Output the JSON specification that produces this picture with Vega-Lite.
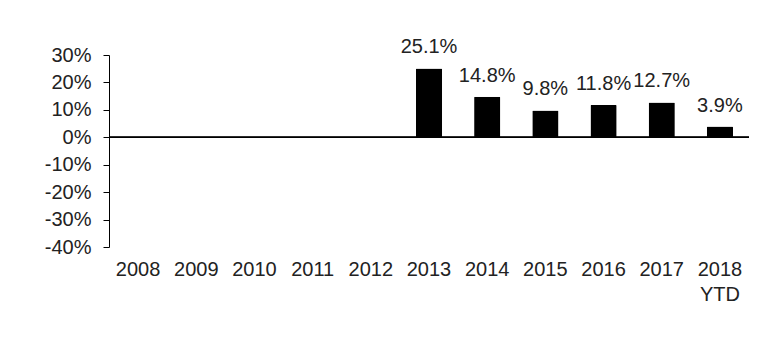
{
  "$schema": "https://vega.github.io/schema/vega-lite/v6.json",
  "autosize": "none",
  "width": 640,
  "height": 192,
  "padding": {"left": 109, "top": 55, "right": 17, "bottom": 96},
  "background": "white",
  "config": {"view": {"stroke": null}, "font": "Liberation Sans"},
  "data": {"values": [
    {"year": "2008", "value": null},
    {"year": "2009", "value": null},
    {"year": "2010", "value": null},
    {"year": "2011", "value": null},
    {"year": "2012", "value": null},
    {"year": "2013", "value": 0.251},
    {"year": "2014", "value": 0.148},
    {"year": "2015", "value": 0.098},
    {"year": "2016", "value": 0.118},
    {"year": "2017", "value": 0.127},
    {"year": "2018 YTD", "value": 0.039}
  ]},
  "encoding": {
    "x": {
      "field": "year", "type": "ordinal", "sort": null,
      "scale": {"domain": ["2008", "2009", "2010", "2011", "2012", "2013", "2014", "2015", "2016", "2017", "2018 YTD"], "paddingInner": 0.55, "paddingOuter": 0.275},
      "axis": {
        "title": null, "labelAngle": 0, "domain": false, "ticks": false,
        "labelFontSize": 20, "labelColor": "#222", "labelPadding": 12,
        "labelLineHeight": 25, "labelBaseline": "top",
        "labelExpr": "datum.value == '2018 YTD' ? ['2018', 'YTD'] : datum.label"
      }
    },
    "y": {
      "field": "value", "type": "quantitative",
      "scale": {"domain": [-0.4, 0.3], "nice": false},
      "axis": {
        "title": null, "values": [-0.4, -0.3, -0.2, -0.1, 0, 0.1, 0.2, 0.3],
        "labelExpr": "(datum.value < -0.001 ? '-' : '') + format(abs(datum.value) * 100, '.0f') + '%'",
        "labelOverlap": false, "labelBound": false, "labelFlush": false,
        "grid": false, "domainColor": "black", "tickColor": "black", "tickSize": 6,
        "labelFontSize": 20, "labelColor": "#222", "labelPadding": 12
      }
    }
  },
  "layer": [
    {
      "mark": {"type": "bar", "color": "black", "cornerRadius": 1}
    },
    {
      "mark": {"type": "text", "baseline": "alphabetic", "dy": -15, "fontSize": 20, "color": "#222"},
      "encoding": {
        "text": {"field": "value", "type": "quantitative", "format": ".1%"}
      }
    },
    {
      "mark": {"type": "rule", "color": "black", "strokeWidth": 1.3},
      "encoding": {"x": null, "y": {"datum": 0}}
    }
  ]
}
